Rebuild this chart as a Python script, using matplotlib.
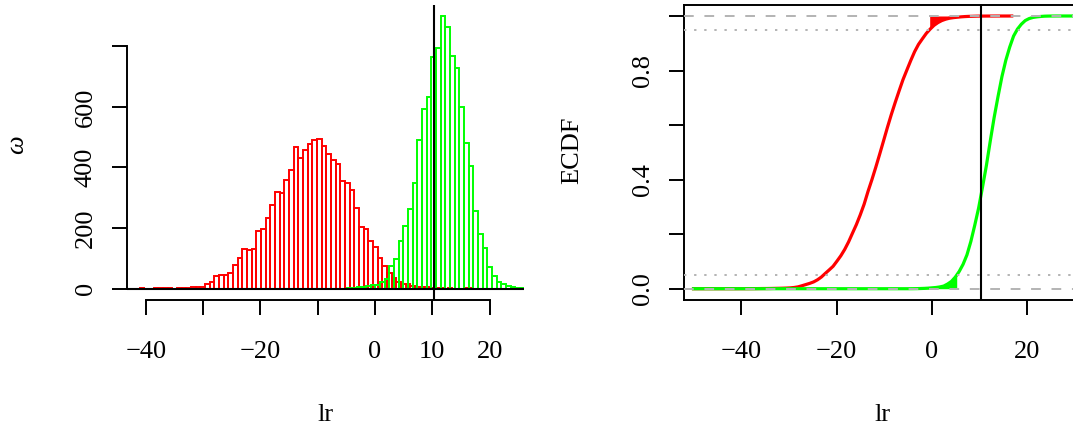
import numpy as np
import matplotlib
matplotlib.use("Agg")
import matplotlib.pyplot as plt

plt.rcParams['font.family'] = ['Liberation Serif', 'DejaVu Serif']
plt.rcParams['font.size'] = 19

# log-ratio histograms of the two groups (equal width bins)
bin_width = 0.815
red_start = -41.1
red_counts = [1, 0, 0, 1, 1, 2, 2, 0, 2, 3, 3, 4, 5,
              7, 14, 23, 41, 44, 44, 53, 78, 102, 132, 128, 132, 190, 198,
              234, 277, 319, 315, 358, 392, 469, 431, 458, 479, 491, 495,
              472, 443, 424, 412, 354, 350, 327, 267, 205, 198, 158, 139,
              100, 75, 51, 36, 21, 15, 14, 10, 7, 4, 4, 2, 1, 1,
              0, 1, 0, 0, 0, 1]
green_start = -4.85
green_counts = [1, 2, 4, 5, 8, 12, 12, 21, 31, 75, 97, 158, 208, 262, 348,
                490, 593, 634, 766, 793, 901, 865, 768, 727, 601, 482, 405,
                256, 179, 133, 73, 42, 21, 15, 10, 4, 2, 1]

cutoff = 10.35          # decision threshold on lr
ecdf_from = -50.0       # left end of the ecdf horizontal lines
ecdf_to = 40.0
lo_q, hi_q = 0.05, 0.95

hist_ticks = [-40, -30, -20, -10, 0, 10, 20]
hist_ticklabels = ['\u221240', '', '\u221220', '', '0', '10', '20']
count_ticks = [0, 200, 400, 600, 800]
count_ticklabels = ['0', '200', '400', '600', '']
ecdf_xticks = [-40, -20, 0, 20]
ecdf_yticks = [0.0, 0.2, 0.4, 0.6, 0.8, 1.0]
ecdf_yticklabels = ['0.0', '', '0.4', '', '0.8', '']

RED = '#FF0000'
GREEN = '#00FF00'
GRAY = '#B3B3B3'


def edges_of(start, counts):
    return start + bin_width * np.arange(len(counts) + 1)


def style_ticks(ax):
    ax.tick_params(length=10.8, width=1.4, direction='out', colors='black')
    ax.tick_params(axis='x', pad=19)
    ax.tick_params(axis='y', pad=11, labelrotation=90)
    for t in ax.get_yticklabels():
        t.set_va('center')


red_edges = edges_of(red_start, red_counts)
green_edges = edges_of(green_start, green_counts)

W, H = 1073, 428
fig = plt.figure(figsize=(W / 100, H / 100), dpi=100)

# ---- left: histograms
ax1 = fig.add_axes([127 / W, 1 - 300 / H, 397 / W, 295 / H])
ax1.bar(red_edges[:-1], red_counts, width=bin_width, align='edge',
        fill=False, edgecolor=RED, linewidth=1.4)
ax1.bar(green_edges[:-1], green_counts, width=bin_width, align='edge',
        fill=False, edgecolor=GREEN, linewidth=1.4)
ax1.axhline(0, color='black', lw=1.5, zorder=4)
ax1.axvline(cutoff, color='black', lw=1.5, zorder=4)
for s in ['top', 'right']:
    ax1.spines[s].set_visible(False)
for s in ['left', 'bottom']:
    ax1.spines[s].set_linewidth(1.4)
ax1.spines['left'].set_bounds(0, 800)
ax1.spines['bottom'].set_bounds(-40, 20)
ax1.set_xticks(hist_ticks, labels=hist_ticklabels)
ax1.set_yticks(count_ticks, labels=count_ticklabels)
ax1.set_xlim(-43.3, 26.0)
ax1.set_ylim(-37.3, 936)
style_ticks(ax1)
ax1.set_xlabel('lr')
ax1.xaxis.set_label_coords(0.5, -0.39)
ax1.xaxis.label.set_va('center')
ax1.set_ylabel('\u03c9', style='italic', rotation=90)
ax1.yaxis.set_label_coords(-0.276, 0.525)
ax1.yaxis.label.set_va('center')

# ---- right: empirical cdfs built from the same counts
ax2 = fig.add_axes([684 / W, 1 - 300 / H, 397 / W, 295 / H])

red_cdf = np.concatenate([[0], np.cumsum(red_counts)]) / np.sum(red_counts)
green_cdf = np.concatenate([[0], np.cumsum(green_counts)]) / np.sum(green_counts)

ax2.plot(np.r_[ecdf_from, red_edges], np.r_[0, red_cdf],
         color=RED, lw=2.3, zorder=2)
ax2.plot(np.r_[ecdf_from, green_edges, ecdf_to], np.r_[0, green_cdf, 1],
         color=GREEN, lw=2.3, zorder=2)

# upper tail of red and lower tail of green shaded
q_red = np.interp(hi_q, red_cdf, red_edges)
keep = red_edges > q_red
ax2.fill_between(np.r_[q_red, red_edges[keep]], np.r_[hi_q, red_cdf[keep]], 1,
                 color=RED, lw=0, zorder=2)
q_green = np.interp(lo_q, green_cdf, green_edges)
keep = green_edges < q_green
ax2.fill_between(np.r_[green_edges[keep], q_green], 0,
                 np.r_[green_cdf[keep], lo_q], color=GREEN, lw=0, zorder=2)

for y in (0, 1):
    ax2.axhline(y, color=GRAY, lw=1.4, dashes=(5, 5.5), zorder=3)
for y in (lo_q, hi_q):
    ax2.axhline(y, color=GRAY, lw=1.4, dashes=(1.2, 4), zorder=3)
ax2.axvline(cutoff, color='black', lw=1.5, zorder=4)

for s in ax2.spines.values():
    s.set_linewidth(1.4)
ax2.set_xticks(ecdf_xticks)
ax2.set_yticks(ecdf_yticks, labels=ecdf_yticklabels)
ax2.set_xlim(-52.0, 31.3)
ax2.set_ylim(-0.0414, 1.0403)
style_ticks(ax2)
ax2.set_xlabel('lr')
ax2.xaxis.set_label_coords(0.5, -0.39)
ax2.xaxis.label.set_va('center')
ax2.set_ylabel('ECDF')
ax2.yaxis.set_label_coords(-0.282, 0.508)
ax2.yaxis.label.set_va('center')

fig.savefig('out.png', dpi=100)
